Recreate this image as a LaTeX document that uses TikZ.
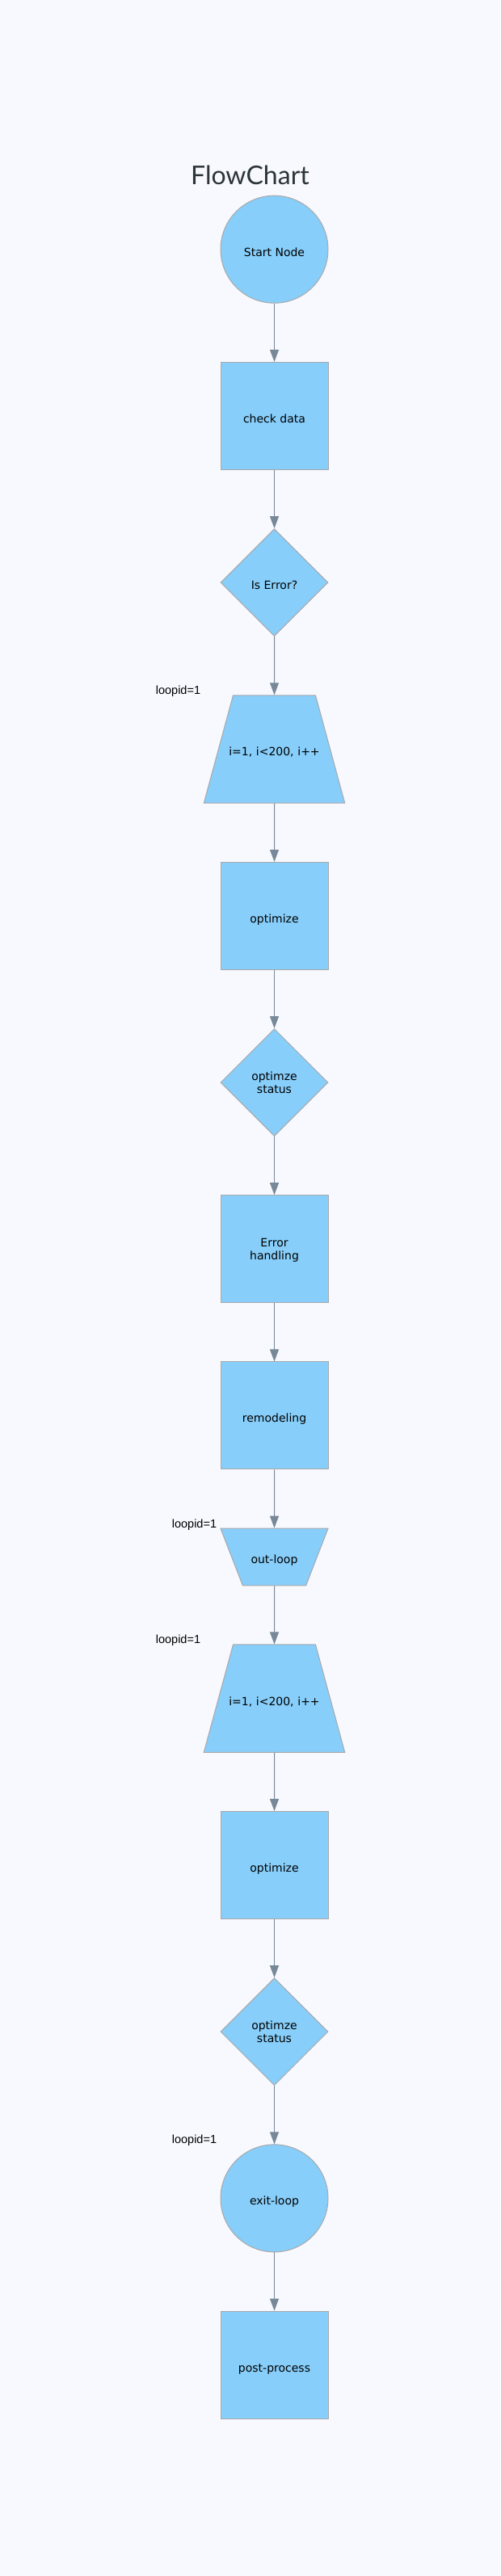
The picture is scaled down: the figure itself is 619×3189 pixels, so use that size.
\documentclass[tikz,border=0pt]{standalone}
\usepackage{fontspec}
\setmainfont{DejaVu Sans}
\newfontfamily\titlefont{Lato}
\newfontfamily\labelfont{Liberation Sans}
\usetikzlibrary{shapes.geometric, positioning, arrows.meta}
\definecolor{bgpage}{HTML}{F8F9FE}
\definecolor{nodefill}{HTML}{87CEFA}
\definecolor{nodeline}{HTML}{A9A9A9}
\definecolor{flowgray}{HTML}{778899}
\definecolor{titlegray}{HTML}{2C3539}

\begin{document}
\begin{tikzpicture}[x=1pt, y=1pt, node distance=72.2pt,
    base/.style={draw=nodeline, fill=nodefill, line width=1pt, inner sep=0pt,
        align=center, font=\fontsize{14}{16}\selectfont, text height=17pt, text depth=0pt},
    twoline/.style={text height=, text depth=-8pt},
    procbox/.style={base, rectangle, minimum width=133pt, minimum height=133pt},
    roundbox/.style={base, circle, minimum size=133pt},
    decide/.style={base, diamond, aspect=1, minimum width=133pt, minimum height=133pt},
    loophead/.style={base, trapezium, trapezium left angle=74.8, trapezium right angle=74.8,
        text width=113pt, inner xsep=-5.5pt, inner ysep=58.15pt},
    loopend/.style={base, trapezium, trapezium left angle=111.2, trapezium right angle=111.2,
        text width=58pt, inner xsep=10.15pt, inner ysep=26.8pt},
    flow/.style={draw=flowgray, line width=1pt, -{Triangle[length=15pt, width=11pt]}},
    loopid/.style={font=\labelfont\fontsize{14.5}{16}\selectfont, inner sep=0pt, anchor=base east}]

            \fill[bgpage] (0,0) rectangle (619,-3189);
            \useasboundingbox (0,0) rectangle (619,-3189);

            \node[font=\titlefont\fontsize{32}{38}\selectfont, text=titlegray, anchor=base] (title) at (309.5,-228.3) {FlowChart};

            % main column
            \node[roundbox] (start) at (339.5,-308.7) {Start Node};
            \node[procbox, below=of start] (check) {check data};
            \node[decide, below=of check] (iserr) {Is Error?};
            \node[loophead, below=of iserr] (loopA) {i=1, i<200, i++};
            \node[procbox, below=of loopA] (optA) {optimize};
            \node[decide, twoline, below=of optA] (statA) {optimze\\status};
            \node[procbox, twoline, below=of statA] (errh) {Error\\handling};
            \node[procbox, below=of errh] (remodel) {remodeling};
            \node[loopend, below=of remodel] (outloop) {out-loop};
            \node[loophead, below=of outloop] (loopB) {i=1, i<200, i++};
            \node[procbox, below=of loopB] (optB) {optimize};
            \node[decide, twoline, below=of optB] (statB) {optimze\\status};
            \node[roundbox, below=of statB] (exitloop) {exit-loop};
            \node[procbox, below=of exitloop] (post) {post-process};

            \foreach \a/\b in {start/check, check/iserr, iserr/loopA, loopA/optA, optA/statA,
                statA/errh, errh/remodel, remodel/outloop, outloop/loopB, loopB/optB,
                optB/statB, statB/exitloop, exitloop/post}
                \draw[flow] (\a) -- (\b);

            % loop ids
            \node[loopid] (idA) at ([xshift=-91.2pt, yshift=0.5pt]loopA.north) {loopid=1};
            \node[loopid] (idout) at ([xshift=-71.2pt, yshift=0.5pt]outloop.north) {loopid=1};
            \node[loopid] (idB) at ([xshift=-91.2pt, yshift=0.5pt]loopB.north) {loopid=1};
            \node[loopid] (idexit) at ([xshift=-71.2pt, yshift=0.5pt]exitloop.north) {loopid=1};
        \end{tikzpicture}
\end{document}
